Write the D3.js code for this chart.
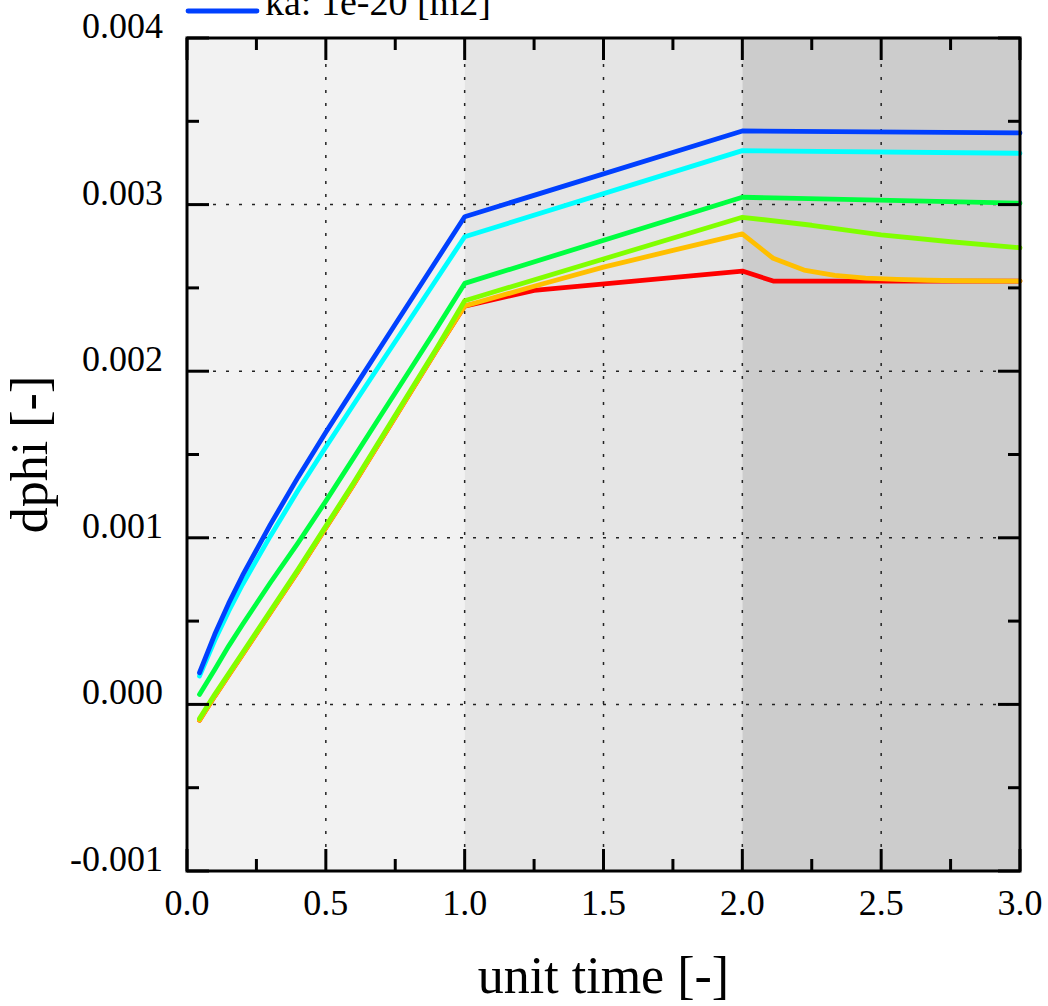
<!DOCTYPE html>
<html>
<head>
<meta charset="utf-8">
<script src="https://cdn.jsdelivr.net/npm/d3@7"></script>
<style>
  body { margin: 0; background: #fff; }
  svg { display: block; font-family: 'Liberation Serif', 'Times New Roman', serif; }
</style>
</head>
<body>
<div id="chart"></div>
<script>
// series (drawn in this order, last on top)
const seriesNames = ['ka: 1e-15 [m2]', 'ka: 1e-16 [m2]', 'ka: 1e-17 [m2]', 'ka: 1e-18 [m2]', 'ka: 1e-19 [m2]', 'ka: 1e-20 [m2]'];
const seriesColors = ['#ff0000', '#ffbf00', '#80ff00', '#00ff40', '#00ffff', '#0040ff'];

const xEarly = [0.045, 0.1, 0.15, 0.2, 0.3, 0.4, 0.5, 0.6, 0.7, 0.8, 0.9, 1.0];

// values in units of 1e-3
const redX = [...xEarly, 1.25, 2.0, 2.111, 3.0];
const redY = [-0.095, 0.05, 0.175, 0.30, 0.55, 0.80, 1.06, 1.32, 1.59, 1.86, 2.13, 2.391, 2.485, 2.601, 2.541, 2.541];

const orangeX = [...xEarly, 1.25, 1.5, 1.75, 2.0, 2.111, 2.222, 2.333, 2.444, 2.556, 2.667, 2.778, 3.0];
const orangeY = [-0.095, 0.05, 0.175, 0.30, 0.55, 0.80, 1.06, 1.32, 1.59, 1.86, 2.13, 2.391, 2.51, 2.625, 2.725, 2.824, 2.678, 2.607, 2.575, 2.559, 2.551, 2.546, 2.543, 2.541];

const limeX = [...xEarly, 2.0, 2.25, 2.5, 2.75, 3.0];
const limeY = [-0.085, 0.06, 0.185, 0.31, 0.56, 0.81, 1.07, 1.33, 1.60, 1.87, 2.14, 2.423, 2.924, 2.876, 2.818, 2.777, 2.741];

const greenX = [...xEarly, 2.0, 3.0];
const greenY = [0.06, 0.21, 0.35, 0.48, 0.73, 0.97, 1.22, 1.48, 1.74, 2.00, 2.26, 2.527, 3.044, 3.008];

const cyanX = [...xEarly, 2.0, 3.0];
const cyanY = [0.17, 0.385, 0.56, 0.72, 1.01, 1.285, 1.545, 1.80, 2.052, 2.303, 2.555, 2.807, 3.324, 3.308];

const blueX = [...xEarly, 2.0, 3.0];
const blueY = [0.19, 0.421, 0.606, 0.774, 1.079, 1.364, 1.634, 1.894, 2.153, 2.411, 2.669, 2.927, 3.442, 3.430];

const seriesX = [redX, orangeX, limeX, greenX, cyanX, blueX];
const seriesY = [redY, orangeY, limeY, greenY, cyanY, blueY];

// background bands
const bandStarts = [0, 1, 2];
const bandEnds = [1, 2, 3];
const bandColors = ['#f2f2f2', '#e5e5e5', '#cccccc'];

const xTicks = [0, 0.5, 1, 1.5, 2, 2.5, 3];
const xMinor = [0.25, 0.75, 1.25, 1.75, 2.25, 2.75];
const yTicks = [-0.001, 0, 0.001, 0.002, 0.003, 0.004];
const yMinor = [-0.0005, 0.0005, 0.0015, 0.0025, 0.0035];

const W = 1048, H = 1006;
const pLeft = 187, pRight = 1020, pTop = 38, pBottom = 871;

const svg = d3.select('#chart').append('svg').attr('width', W).attr('height', H);

const x = d3.scaleLinear().domain([0, 3]).range([pLeft, pRight]);
const y = d3.scaleLinear().domain([-0.001, 0.004]).range([pBottom, pTop]);

svg.selectAll('.band')
  .data(bandStarts)
  .enter()
  .append('rect')
  .attr('class', 'band')
  .attr('x', (d) => x(d))
  .attr('y', pTop)
  .attr('width', (d, i) => x(bandEnds[i]) - x(d))
  .attr('height', pBottom - pTop)
  .style('fill', (d, i) => bandColors[i]);

// dotted grid
const grid = svg.append('g').style('stroke', '#222').style('stroke-width', 1.5).style('stroke-dasharray', '3,10');
grid.selectAll('.vg')
  .data(xTicks.filter((d) => d > 0 && d < 3))
  .enter()
  .append('line')
  .attr('x1', (d) => x(d)).attr('x2', (d) => x(d))
  .attr('y1', pTop).attr('y2', pBottom);
grid.selectAll('.hg')
  .data(yTicks.filter((d) => d > -0.001 && d < 0.004))
  .enter()
  .append('line')
  .attr('y1', (d) => y(d)).attr('y2', (d) => y(d))
  .attr('x1', pLeft).attr('x2', pRight);

// series lines
const line = d3.line()
  .x((d) => x(d[0]))
  .y((d) => y(d[1] / 1000));

seriesX.forEach((xs, i) => {
  const pts = xs.map((v, j) => [v, seriesY[i][j]]);
  svg.append('path')
    .datum(pts)
    .attr('d', line)
    .style('fill', 'none')
    .style('stroke', seriesColors[i])
    .style('stroke-width', 4.8)
    .style('stroke-linejoin', 'round')
    .style('stroke-linecap', 'round');
});

// axes: ticks pointing inward on all four sides
const axes = svg.append('g').style('stroke', '#000').style('stroke-width', 3);
const majorLen = 22, minorLen = 12;

function addXTicks(vals, len) {
  vals.forEach((v) => {
    axes.append('line').attr('x1', x(v)).attr('x2', x(v)).attr('y1', pBottom).attr('y2', pBottom - len);
    axes.append('line').attr('x1', x(v)).attr('x2', x(v)).attr('y1', pTop).attr('y2', pTop + len);
  });
}
function addYTicks(vals, len) {
  vals.forEach((v) => {
    axes.append('line').attr('y1', y(v)).attr('y2', y(v)).attr('x1', pLeft).attr('x2', pLeft + len);
    axes.append('line').attr('y1', y(v)).attr('y2', y(v)).attr('x1', pRight).attr('x2', pRight - len);
  });
}
addXTicks(xTicks, majorLen);
addXTicks(xMinor, minorLen);
addYTicks(yTicks, majorLen);
addYTicks(yMinor, minorLen);

axes.append('rect')
  .attr('x', pLeft).attr('y', pTop)
  .attr('width', pRight - pLeft).attr('height', pBottom - pTop)
  .style('fill', 'none');

// tick labels
svg.selectAll('.xl')
  .data(xTicks)
  .enter()
  .append('text')
  .attr('x', (d) => x(d))
  .attr('y', 915)
  .attr('text-anchor', 'middle')
  .style('font-size', '36px')
  .text((d) => d3.format('.1f')(d));

svg.selectAll('.yl')
  .data(yTicks)
  .enter()
  .append('text')
  .attr('x', 163)
  .attr('y', (d) => y(d))
  .attr('text-anchor', 'end')
  .style('font-size', '36px')
  .text((d) => d3.format('.3f')(d).replace('−', '-'));

// axis titles
svg.append('text')
  .attr('x', (pLeft + pRight) / 2)
  .attr('y', 993)
  .attr('text-anchor', 'middle')
  .style('font-size', '52px')
  .text('unit time [-]');

svg.append('text')
  .attr('transform', `translate(47, ${(pTop + pBottom) / 2}) rotate(-90)`)
  .attr('text-anchor', 'middle')
  .style('font-size', '52px')
  .text('dphi [-]');

// legend (only the last entry fits on the page)
const legend = svg.append('g');
seriesNames.forEach((name, i) => {
  const ly = 11 - (seriesNames.length - 1 - i) * 40;
  if (ly < -20) return;
  legend.append('line')
    .attr('x1', 188).attr('x2', 257)
    .attr('y1', ly).attr('y2', ly)
    .style('stroke', seriesColors[i])
    .style('stroke-width', 4.8)
    .style('stroke-linecap', 'round');
  legend.append('text')
    .attr('x', 265)
    .attr('y', ly + 4)
    .style('font-size', '38px')
    .text(name);
});
</script>
</body>
</html>
